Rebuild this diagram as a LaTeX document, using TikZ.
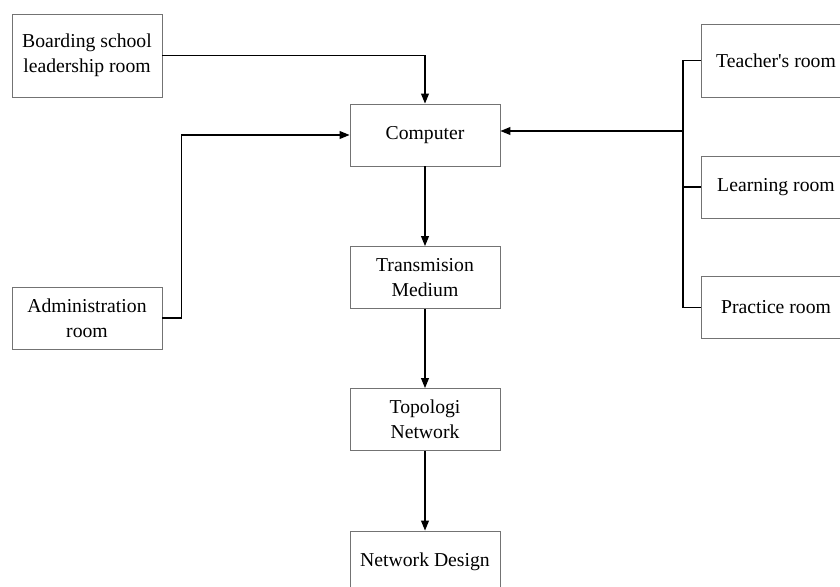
\documentclass[tikz,border=0pt]{standalone}
\usepackage{fontspec}
\setmainfont{Liberation Serif}
\usetikzlibrary{arrows.meta}
\tikzset{>={Triangle[length=7pt,width=5.5pt]}}
\tikzset{room/.style = {shape=rectangle,draw=black!55,line width=0.6pt,minimum width=3.75cm,minimum height=1.55cm,align=center,font=\fontsize{14}{17.5}\selectfont}}
\tikzset{link/.style = {line width=0.9pt,black}}

\begin{document}
\begin{tikzpicture}[x=0.025cm,y=-0.025cm]
                \useasboundingbox (0,0) rectangle (840,586);
                \clip (0,0) rectangle (840,586);
                \node[room,minimum height=2.075cm] (Board) at (87,55.5) {Boarding school\\leadership room};
                \node[room] (Admin) at (87,318) {Administration\\room};
                \node[room] (Comp) at (425,135) {Computer};
                \node[room] (Trans) at (425,277.5) {Transmision\\Medium};
                \node[room] (Topo) at (425,419.5) {Topologi\\Network};
                \node[room] (Design) at (425,562) {Network Design};
                \node[room,minimum height=1.825cm] (Teach) at (776,60.5) {Teacher\textquotesingle s room};
                \node[room] (Learn) at (776,187) {Learning room};
                \node[room] (Pract) at (776,307.5) {Practice room};

                \coordinate (bus) at (683,131);

                \draw[link,->] (Board.east) -| (Comp.north);
                \draw[link,->] (Admin.east) -- ++(19,0) |- (Comp.west);
                \draw[link] (Teach.west) -| (bus);
                \draw[link] (Learn.west) -| (bus);
                \draw[link] (Pract.west) -| (bus);
                \draw[link,->] (bus) -- (Comp.east |- bus);
                \draw[link,->] (Comp) -- (Trans);
                \draw[link,->] (Trans) -- (Topo);
                \draw[link,->] (Topo) -- (Design);
            \end{tikzpicture}
\end{document}
